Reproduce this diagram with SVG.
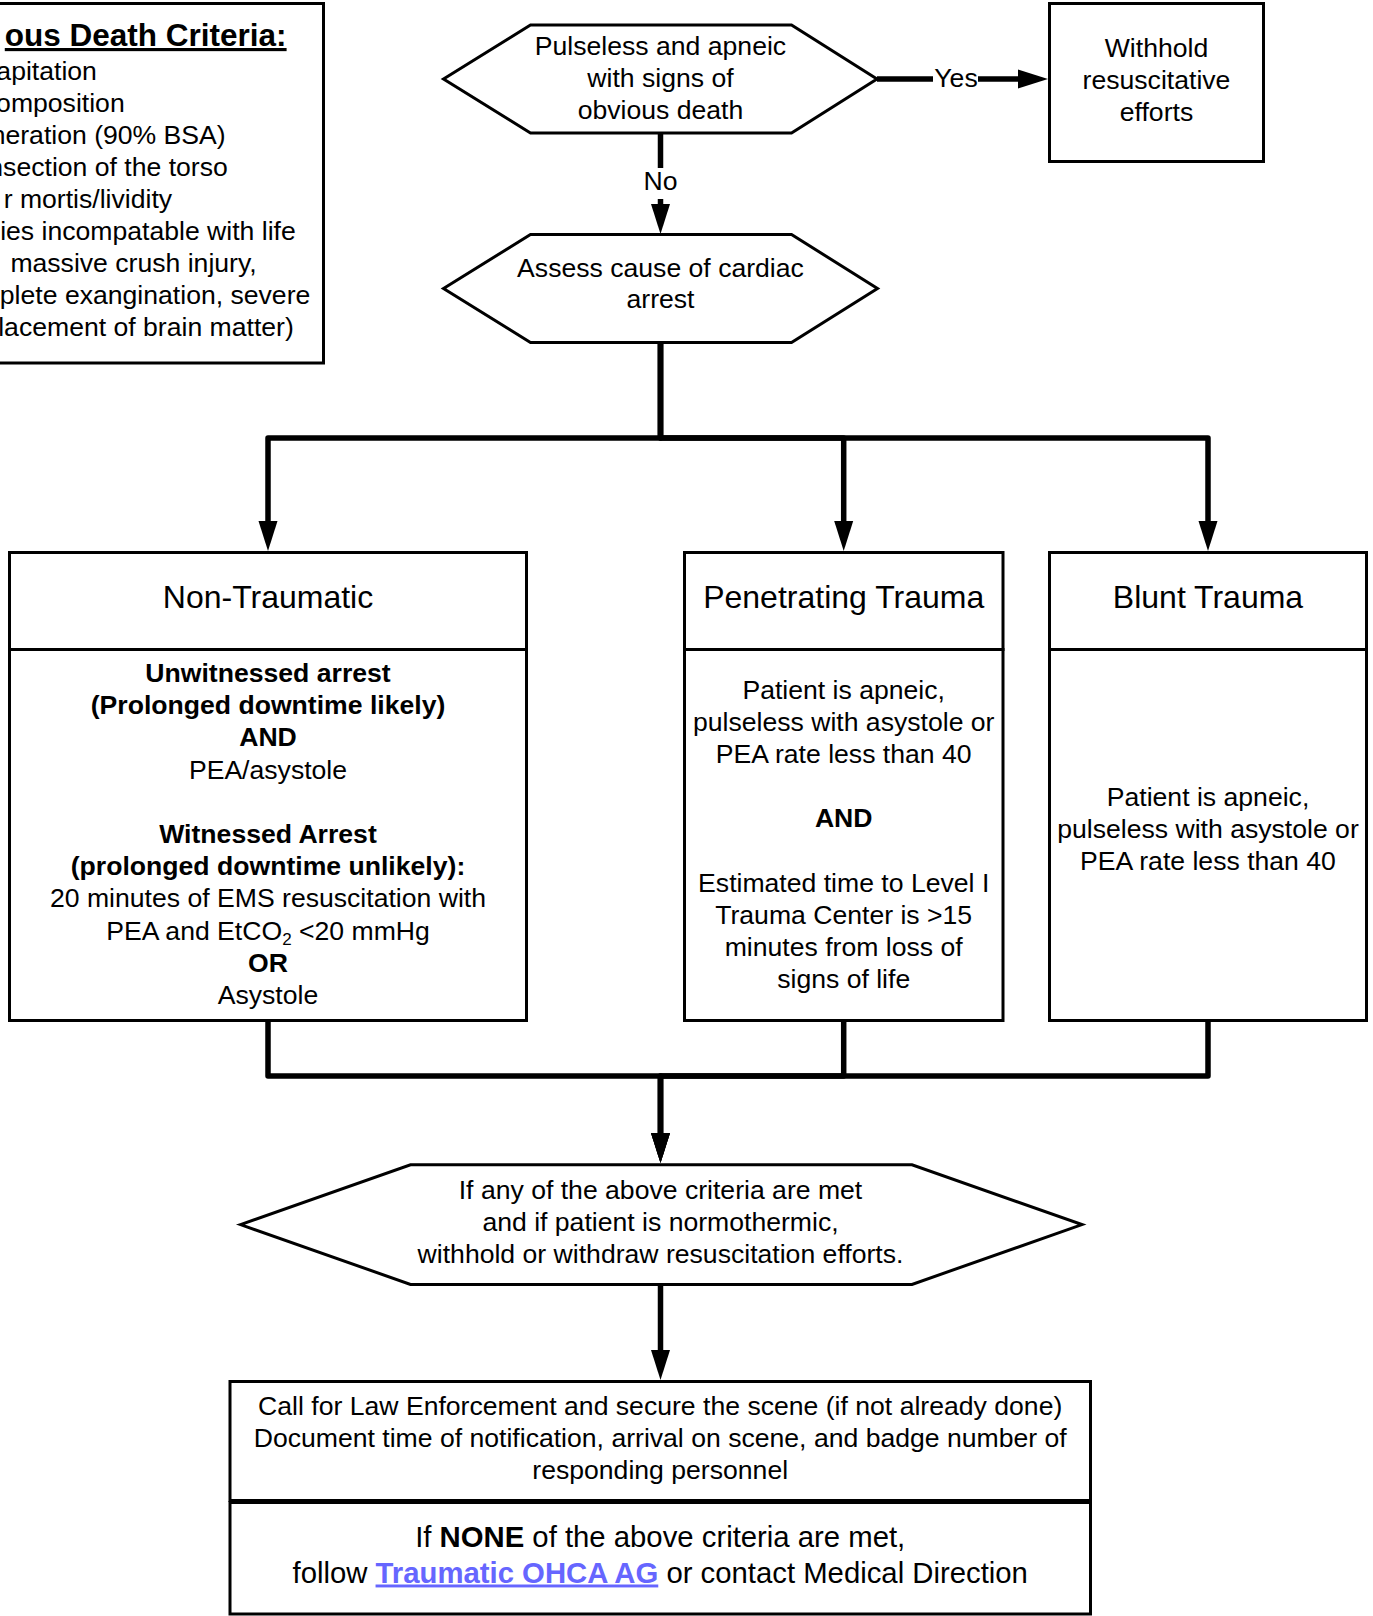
<svg xmlns="http://www.w3.org/2000/svg" width="1373" height="1616" viewBox="0 0 1373 1616">
<defs>
<style>
.t{font-family:"Liberation Sans",Arial,sans-serif;font-size:26.6px;fill:#000;text-anchor:middle}
.b{font-weight:bold}
.h{font-size:32px}
.ti{font-size:31.5px;text-decoration:underline}
.e{text-anchor:end}
.n{font-size:29.3px}
.box{fill:#fff;stroke:#000;stroke-width:3}
.c{fill:none;stroke:#000;stroke-width:5.5;stroke-linejoin:round}
.ca{fill:none;stroke:#000;stroke-width:5.5;stroke-linejoin:round;marker-end:url(#arr)}
</style>
<marker id="arr" markerUnits="userSpaceOnUse" markerWidth="30" markerHeight="20" viewBox="0 0 30 20" refX="0" refY="10" orient="auto">
<path d="M0,0.5 L30,10 L0,19.5 Z" fill="#000"/>
</marker>
</defs>
<rect width="1373" height="1616" fill="#fff"/>

<g id="connectors">
<path class="c" d="M660.5,133 V168"/>
<path class="ca" d="M660.5,199 V204"/>
<text class="t" x="660.5" y="189.5">No</text>
<path class="c" d="M877,79 H933"/>
<path class="ca" d="M978,79 H1018"/>
<text class="t" x="956" y="87">Yes</text>
<path class="ca" d="M660.5,343 V438 H268 V521"/>
<path class="ca" d="M660.5,343 V438 H843.7 V521"/>
<path class="ca" d="M660.5,343 V438 H1208 V521"/>
<path class="ca" d="M268,1021 V1076 H660.5 V1133"/>
<path class="ca" d="M843.7,1021 V1076 H660.5 V1133"/>
<path class="ca" d="M1208,1021 V1076 H660.5 V1133"/>
<path class="ca" d="M660.5,1285 V1350"/>
</g>

<g id="criteria">
<rect class="box" x="-20" y="3.5" width="343.5" height="359.5"/>
<text class="t b e ti" x="286.6" y="46">ous Death Criteria:</text>
<text class="t e" x="96.9" y="79.5">apitation</text>
<text class="t e" x="124.7" y="111.6">omposition</text>
<text class="t e" x="225.7" y="143.7">neration (90% BSA)</text>
<text class="t e" x="227.8" y="175.8">nsection of the torso</text>
<text class="t e" x="172.1" y="207.9">r mortis/lividity</text>
<text class="t e" x="295.8" y="240">ies incompatable with life</text>
<text class="t e" x="256.7" y="272.1">massive crush injury,</text>
<text class="t e" x="310.3" y="304.2">plete exangination, severe</text>
<text class="t e" x="293.8" y="336.3">lacement of brain matter)</text>
</g>

<g id="obvious-death">
<polygon class="box" points="443.5,79 530.5,25 791.5,25 877,79 791.5,133 530.5,133"/>
<text class="t" x="660.5" y="54.5">Pulseless and apneic</text>
<text class="t" x="660.5" y="86.7">with signs of</text>
<text class="t" x="660.5" y="118.9">obvious death</text>
</g>

<g id="withhold">
<rect class="box" x="1049.5" y="3.5" width="214" height="158"/>
<text class="t" x="1156.5" y="57">Withhold</text>
<text class="t" x="1156.5" y="89.2">resuscitative</text>
<text class="t" x="1156.5" y="121.4">efforts</text>
</g>

<g id="assess">
<polygon class="box" points="443.5,288.5 530.5,234.5 791.5,234.5 877.5,288.5 791.5,342.5 530.5,342.5"/>
<text class="t" x="660.5" y="276.5">Assess cause of cardiac</text>
<text class="t" x="660.5" y="308.3">arrest</text>
</g>

<g id="non-traumatic">
<rect class="box" x="9.5" y="552.5" width="517" height="97"/>
<rect class="box" x="9.5" y="649.5" width="517" height="371"/>
<text class="t h" x="268" y="608">Non-Traumatic</text>
<text class="t b" x="268" y="682">Unwitnessed arrest</text>
<text class="t b" x="268" y="714.2">(Prolonged downtime likely)</text>
<text class="t b" x="268" y="746.4">AND</text>
<text class="t" x="268" y="778.6">PEA/asystole</text>
<text class="t b" x="268" y="843">Witnessed Arrest</text>
<text class="t b" x="268" y="875.2">(prolonged downtime unlikely):</text>
<text class="t" x="268" y="907.4">20 minutes of EMS resuscitation with</text>
<text class="t" x="268" y="939.6">PEA and EtCO<tspan font-size="17" dy="5">2</tspan><tspan dy="-5"> &lt;20 mmHg</tspan></text>
<text class="t b" x="268" y="971.8">OR</text>
<text class="t" x="268" y="1004">Asystole</text>
</g>

<g id="penetrating">
<rect class="box" x="684.5" y="552.5" width="318.5" height="97"/>
<rect class="box" x="684.5" y="649.5" width="318.5" height="371"/>
<text class="t h" x="843.7" y="608">Penetrating Trauma</text>
<text class="t" x="843.7" y="698.5">Patient is apneic,</text>
<text class="t" x="843.7" y="730.7">pulseless with asystole or</text>
<text class="t" x="843.7" y="762.9">PEA rate less than 40</text>
<text class="t b" x="843.7" y="827.3">AND</text>
<text class="t" x="843.7" y="891.7">Estimated time to Level I</text>
<text class="t" x="843.7" y="923.9">Trauma Center is &gt;15</text>
<text class="t" x="843.7" y="956.1">minutes from loss of</text>
<text class="t" x="843.7" y="988.3">signs of life</text>
</g>

<g id="blunt">
<rect class="box" x="1049.5" y="552.5" width="317" height="97"/>
<rect class="box" x="1049.5" y="649.5" width="317" height="371"/>
<text class="t h" x="1208" y="608">Blunt Trauma</text>
<text class="t" x="1208" y="805.5">Patient is apneic,</text>
<text class="t" x="1208" y="837.7">pulseless with asystole or</text>
<text class="t" x="1208" y="869.9">PEA rate less than 40</text>
</g>

<g id="withdraw">
<polygon class="box" points="240.5,1224.6 410.5,1164.8 912,1164.8 1082,1224.6 912,1284.4 410.5,1284.4"/>
<text class="t" x="660.5" y="1198.8">If any of the above criteria are met</text>
<text class="t" x="660.5" y="1231">and if patient is normothermic,</text>
<text class="t" x="660.5" y="1263.2">withhold or withdraw resuscitation efforts.</text>
</g>

<g id="law-enforcement">
<rect class="box" x="230" y="1381.5" width="860.5" height="119"/>
<text class="t" x="660.2" y="1414.5">Call for Law Enforcement and secure the scene (if not already done)</text>
<text class="t" x="660.2" y="1446.7">Document time of notification, arrival on scene, and badge number of</text>
<text class="t" x="660.2" y="1478.9">responding personnel</text>
</g>

<g id="none-met">
<rect class="box" x="230" y="1502.5" width="860.5" height="111.5"/>
<text class="t n" x="660.2" y="1546.5">If <tspan class="b">NONE</tspan> of the above criteria are met,</text>
<text class="t n" x="660.2" y="1582.5">follow <tspan class="b" fill="#6666ff" text-decoration="underline">Traumatic OHCA AG</tspan> or contact Medical Direction</text>
</g>
</svg>
